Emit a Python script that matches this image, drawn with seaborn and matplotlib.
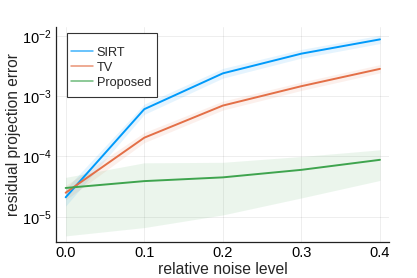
import numpy as np
import pandas as pd
import matplotlib
matplotlib.use("Agg")
import matplotlib.pyplot as plt
import matplotlib.patches as mpatches
import seaborn as sns

noise = [0.0, 0.1, 0.2, 0.3, 0.4]
methods = ["SIRT", "TV", "Proposed"]
sirt = [2.1e-5, 6.1e-4, 2.4e-3, 5.1e-3, 8.8e-3]
sirt_lo = [1.5e-5, 5.0e-4, 2.0e-3, 4.3e-3, 7.5e-3]
sirt_hi = [2.9e-5, 7.4e-4, 2.9e-3, 6.0e-3, 1.03e-2]
tv = [2.5e-5, 2.05e-4, 7.0e-4, 1.47e-3, 2.85e-3]
tv_lo = [1.9e-5, 1.7e-4, 5.9e-4, 1.25e-3, 2.45e-3]
tv_hi = [3.3e-5, 2.5e-4, 8.3e-4, 1.72e-3, 3.35e-3]
prop = [3.0e-5, 3.9e-5, 4.5e-5, 6.0e-5, 8.8e-5]
prop_lo = [4.8e-6, 6.6e-6, 1.07e-5, 2.05e-5, 4.0e-5]
prop_hi = [4.5e-5, 7.85e-5, 8.0e-5, 1.0e-4, 1.29e-4]
colors = ["#009AFA", "#E36F47", "#3EA44E"]

sns.set_style("white")
plt.rcParams["font.family"] = ["Liberation Sans", "DejaVu Sans"]
plt.rcParams["mathtext.fontset"] = "custom"
plt.rcParams["mathtext.rm"] = "Liberation Sans"
plt.rcParams["mathtext.it"] = "Liberation Sans:italic"

df = pd.DataFrame({
    "noise": noise * 3,
    "err": sirt + tv + prop,
    "method": [m for m in methods for _ in noise],
})

W, H = 417, 278
fig = plt.figure(figsize=(W / 100, H / 100), dpi=100)
ax = fig.add_axes([0.1343, 0.1295, 0.7986, 0.7734])

for lo, hi, c in zip([sirt_lo, tv_lo, prop_lo], [sirt_hi, tv_hi, prop_hi], colors):
    ax.fill_between(noise, lo, hi, color=c, alpha=0.1, linewidth=0)

sns.lineplot(data=df, x="noise", y="err", hue="method", palette=colors,
             linewidth=1.4, ax=ax, legend=True)

ax.set_yscale("log")
ax.set_xlim(-0.0123, 0.4115)
ax.set_ylim(10 ** -5.42, 10 ** -1.85)
ax.set_xticks([0.0, 0.1, 0.2, 0.3, 0.4])
ax.set_xticklabels(["0.0", "0.1", "0.2", "0.3", "0.4"])
ax.set_yticks([1e-5, 1e-4, 1e-3, 1e-2])
ax.minorticks_off()
ax.set_xlabel("relative noise level", fontsize=11.3, labelpad=1)
ax.set_ylabel("residual projection error", fontsize=11.2, labelpad=1)
ax.tick_params(axis="both", labelsize=10.5, direction="in", length=3, width=0.6,
               colors="black", pad=3)
ax.grid(True, color="black", alpha=0.08, linewidth=0.6)
for s in ["top", "right"]:
    ax.spines[s].set_visible(False)
for s in ["left", "bottom"]:
    ax.spines[s].set_color("#222222")
    ax.spines[s].set_linewidth(0.9)

# legend frame drawn as a separate box (taller padding than matplotlib allows)
frame = mpatches.Rectangle((67.3 / W, 1 - 97 / H), (156.7 - 67.3) / W, (97 - 33) / H,
                           transform=fig.transFigure, facecolor="white",
                           edgecolor="#333333", linewidth=0.8, zorder=4, clip_on=False)
ax.add_patch(frame)

leg = ax.legend(loc="upper left", bbox_to_anchor=(71 / W, 1 - 46.5 / H),
                bbox_transform=fig.transFigure, fontsize=9.2,
                frameon=False, handlelength=1.75, handletextpad=0.25,
                borderpad=0.0, labelspacing=0.25, borderaxespad=0.0)
leg.set_zorder(5)
for h in leg.get_lines():
    h.set_linewidth(1.1)
    h.set_alpha(0.75)

fig.savefig("out.png", dpi=100)
